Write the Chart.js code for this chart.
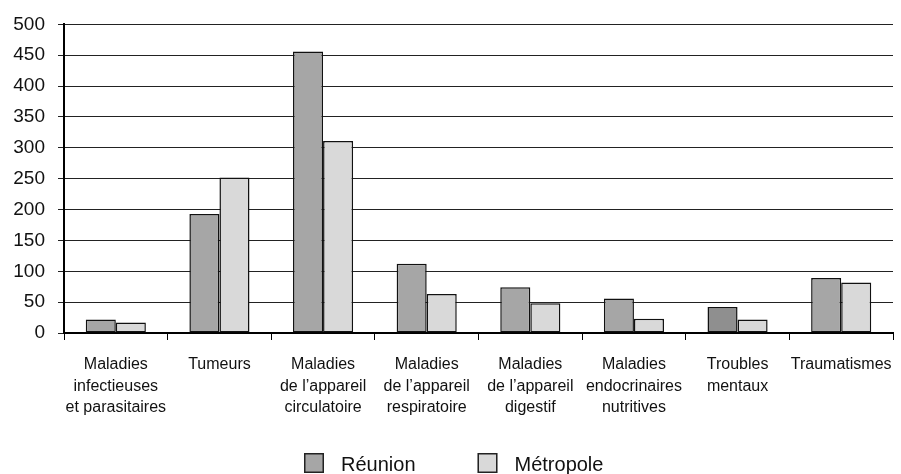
<!DOCTYPE html>
<html>
<head>
<meta charset="utf-8">
<script src="https://cdn.jsdelivr.net/npm/chart.js@4.4.0/dist/chart.umd.min.js"></script>
<style>
  html, body { margin: 0; padding: 0; background: #fff; }
  #wrap { width: 901px; height: 474px; }
</style>
</head>
<body>
<div id="wrap"><canvas id="causes"></canvas></div>
<script>
// Causes of death: Réunion vs Métropole
const categories = [
  ['Maladies', 'infectieuses', 'et parasitaires'],
  ['Tumeurs'],
  ['Maladies', 'de l\u2019appareil', 'circulatoire'],
  ['Maladies', 'de l\u2019appareil', 'respiratoire'],
  ['Maladies', 'de l\u2019appareil', 'digestif'],
  ['Maladies', 'endocrinaires', 'nutritives'],
  ['Troubles', 'mentaux'],
  ['Traumatismes']
];
const reunion = [22, 193, 456, 112, 74, 56, 42, 89];
const metropole = [17, 252, 311, 63, 48, 23, 22, 82];
const seriesNames = ['Réunion', 'Métropole'];
const yTicks = [0, 50, 100, 150, 200, 250, 300, 350, 400, 450, 500];

const reunionColor = '#a6a6a6';
const metropoleColor = '#d9d9d9';
// troubles mentaux bar is shaded a bit darker
const reunionFill = reunion.map((v, i) => i === 6 ? '#8f8f8f' : reunionColor);

const font = 'Arial, "Liberation Sans", sans-serif';

// simple legend under the axis labels
const bottomLegend = {
  id: 'bottomLegend',
  afterDraw(chart) {
    const c = chart.ctx;
    const sets = chart.data.datasets;
    c.save();
    c.font = '20px ' + font;
    const box = 20, gap = 17, between = 62;
    const widths = sets.map(ds => box + gap + c.measureText(ds.label).width);
    const total = widths.reduce((a, b) => a + b, 0) + between * (sets.length - 1);
    let x = Math.round((chart.width - total) / 2) + 3;
    const y = 453;
    sets.forEach((ds, i) => {
      c.fillStyle = ds.legendColor;
      c.fillRect(x, y, box, box);
      c.strokeStyle = '#222';
      c.lineWidth = 1.5;
      c.strokeRect(x + 0.75, y + 0.75, box - 1.5, box - 1.5);
      c.fillStyle = '#111';
      c.textBaseline = 'alphabetic';
      c.fillText(ds.label, x + box + gap, y + 18);
      x += widths[i] + between;
    });
    c.restore();
  }
};

new Chart(document.getElementById('causes'), {
  type: 'bar',
  data: {
    labels: categories,
    datasets: [
      {
        label: seriesNames[0],
        data: reunion,
        backgroundColor: reunionFill,
        legendColor: reunionColor,
        borderColor: '#111',
        borderWidth: 1.5,
        borderSkipped: false
      },
      {
        label: seriesNames[1],
        data: metropole,
        backgroundColor: metropoleColor,
        legendColor: metropoleColor,
        borderColor: '#111',
        borderWidth: 1.5,
        borderSkipped: false
      }
    ]
  },
  options: {
    responsive: true,
    maintainAspectRatio: false,
    animation: false,
    layout: { padding: { top: 19, right: 8, left: 0, bottom: 0 } },
    datasets: {
      bar: { categoryPercentage: 0.58, barPercentage: 1.0 }
    },
    plugins: {
      legend: { display: false },
      tooltip: { enabled: false }
    },
    scales: {
      x: {
        grid: {
          offset: true,
          drawOnChartArea: false,
          drawTicks: true,
          tickLength: 7,
          color: '#000'
        },
        border: { display: true, color: '#000', width: 2 },
        ticks: {
          color: '#111',
          font: { family: font, size: 16, lineHeight: 1.35 },
          padding: 14,
          maxRotation: 0,
          autoSkip: false
        },
        afterFit(scale) {
          scale.height = 141;
          scale.paddingLeft = 0;
          scale.paddingRight = 0;
        }
      },
      y: {
        min: 0,
        max: 500,
        afterBuildTicks(scale) {
          scale.ticks = yTicks.map(v => ({ value: v }));
        },
        grid: {
          color: '#222',
          lineWidth: 1,
          drawTicks: true,
          tickLength: 6
        },
        border: { display: true, color: '#000', width: 2 },
        ticks: {
          color: '#111',
          font: { family: font, size: 19 },
          padding: 13
        },
        afterFit(scale) { scale.width = 64; }
      }
    }
  },
  plugins: [bottomLegend]
});
</script>
</body>
</html>
